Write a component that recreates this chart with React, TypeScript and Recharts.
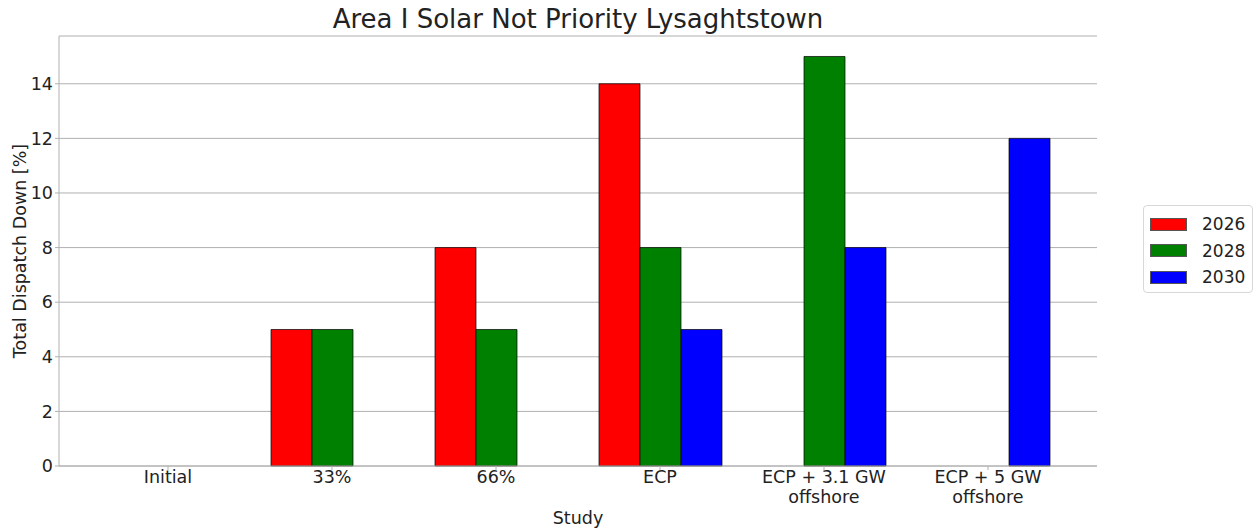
import { Bar, BarChart, CartesianGrid, Legend, XAxis, YAxis } from 'recharts';

const studies = ['Initial', '33%', '66%', 'ECP', 'ECP + 3.1 GW\noffshore', 'ECP + 5 GW\noffshore'];
const values2026 = [0, 5, 8, 14, 0, 0];
const values2028 = [0, 5, 5, 8, 15, 0];
const values2030 = [0, 0, 0, 5, 8, 12];
const yTicks = [0, 2, 4, 6, 8, 10, 12, 14];

const SERIES = [
  { key: 'y2026', name: '2026', color: '#ff0000' },
  { key: 'y2028', name: '2028', color: '#008000' },
  { key: 'y2030', name: '2030', color: '#0000ff' },
];

const FONT = '"DejaVu Sans", sans-serif';
const FRAME = '#b0b0b0';
const TEXT = '#222';
const FS = 17.5;

const data = studies.map((study, i) => ({
  study,
  y2026: values2026[i],
  y2028: values2028[i],
  y2030: values2030[i],
}));

function StudyTick({ x, y, payload }: any) {
  const lines = String(payload.value).split('\n');
  return (
    <text x={x} y={y + 11} textAnchor="middle" fill={TEXT} fontSize={FS} fontFamily={FONT}>
      {lines.map((line, i) => (
        <tspan key={i} x={x} dy={i === 0 ? 0 : 19.5}>
          {line}
        </tspan>
      ))}
    </text>
  );
}

function LegendBox() {
  return (
    <div
      style={{
        width: 110,
        height: 88,
        border: '1px solid #d8d8d8',
        borderRadius: 4,
        background: '#fff',
        boxSizing: 'border-box',
        paddingTop: 5,
        fontFamily: FONT,
        fontSize: 17,
        color: TEXT,
      }}
    >
      {SERIES.map((s) => (
        <div key={s.key} style={{ display: 'flex', alignItems: 'center', height: 26.5 }}>
          <span
            style={{
              display: 'inline-block',
              width: 37,
              height: 13,
              marginLeft: 6,
              background: s.color,
              border: '1px solid #555',
              boxSizing: 'border-box',
            }}
          />
          <span style={{ marginLeft: 15 }}>{s.name}</span>
        </div>
      ))}
    </div>
  );
}

export default function App() {
  return (
    <div style={{ position: 'absolute', left: 0, top: 0, width: 1255, height: 528, background: '#fff' }}>
      <div
        style={{
          position: 'absolute',
          left: 59,
          width: 1038,
          top: 4,
          textAlign: 'center',
          fontFamily: FONT,
          fontSize: 26,
          color: TEXT,
        }}
      >
        Area I Solar Not Priority Lysaghtstown
      </div>
      <BarChart
        width={1255}
        height={528}
        data={data}
        margin={{ top: 36, right: 48, bottom: 0, left: 0 }}
        barSize={41}
        barGap={0}
      >
        <CartesianGrid vertical={false} stroke={FRAME} strokeWidth={1} />
        <XAxis
          dataKey="study"
          height={62}
          padding={{ left: 27, right: 27 }}
          interval={0}
          tick={<StudyTick />}
          tickSize={4}
          tickLine={{ stroke: FRAME }}
          axisLine={{ stroke: FRAME }}
          label={{ value: 'Study', position: 'insideBottom', offset: 4, fill: TEXT, fontSize: FS, fontFamily: FONT }}
        />
        <XAxis xAxisId="top" orientation="top" dataKey="study" height={0} tick={false} tickLine={false} axisLine={{ stroke: FRAME }} />
        <YAxis
          width={59}
          domain={[0, 15.75]}
          ticks={yTicks}
          tickSize={4}
          tickMargin={2}
          tick={{ fill: TEXT, fontSize: FS, fontFamily: FONT }}
          tickLine={{ stroke: FRAME }}
          axisLine={{ stroke: FRAME }}
          label={{
            value: 'Total Dispatch Down [%]',
            angle: -90,
            position: 'insideLeft',
            offset: 20,
            style: { textAnchor: 'middle' },
            fill: TEXT,
            fontSize: FS,
            fontFamily: FONT,
          }}
        />
        <YAxis yAxisId="right" orientation="right" width={0} domain={[0, 15.75]} tick={false} tickLine={false} axisLine={{ stroke: FRAME }} />
        <Legend
          layout="vertical"
          align="right"
          verticalAlign="middle"
          content={<LegendBox />}
          wrapperStyle={{ right: 2, top: 205 }}
        />
        {SERIES.map((s) => (
          <Bar
            key={s.key}
            dataKey={s.key}
            name={s.name}
            fill={s.color}
            stroke="#000"
            strokeWidth={0.7}
            isAnimationActive={false}
          />
        ))}
      </BarChart>
    </div>
  );
}
